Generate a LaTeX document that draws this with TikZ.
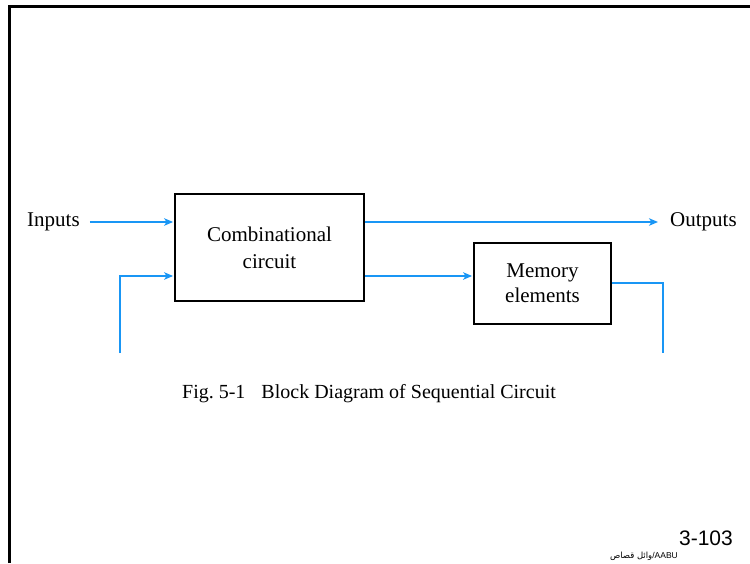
\documentclass[tikz,border=0pt]{standalone}
\usepackage{fontspec}
\setmainfont{Liberation Serif}
\newfontfamily\arialfont{Liberation Sans}
\newfontfamily\arabicfont[Script=Arabic]{DejaVu Sans}
\TeXXeTstate=1
\usetikzlibrary{arrows.meta}
\definecolor{flowblue}{RGB}{25,150,245}

\begin{document}
\begin{tikzpicture}[x=1pt,y=-1pt,
  block/.style={draw=black, line width=1.8pt, align=center, inner sep=0pt,
    font=\fontsize{21}{22}\selectfont},
  lbl/.style={inner sep=0pt, font=\fontsize{21}{22}\selectfont},
  flow/.style={draw=flowblue, line width=2pt},
  flowarr/.style={flow, -{Stealth[length=9pt,width=7.5pt,inset=2.5pt]}}]
  \useasboundingbox (0,0) rectangle (750,563);

  % slide frame
  \draw[line width=3pt] (9,563) -- (9,6) -- (751,6);

  % blocks
  \node[block, minimum width=189pt, minimum height=107pt] (comb) at (269.5,247.5)
    {Combinational\\[5pt]circuit};
  \node[block, minimum width=137pt, minimum height=81pt] (mem) at (542.5,283.5)
    {Memory\\[3pt]elements};

  % terminal labels
  \node[lbl, anchor=west] (in) at (27,222) {Inputs};
  \node[lbl, anchor=west] (out) at (670,222) {Outputs};

  % feedback ends
  \coordinate (fbl) at (120,353);
  \coordinate (fbr) at (663,353);

  % connectors
  \draw[flowarr, shorten <=10pt, shorten >=1pt] (in.east) -- (in.east -| comb.west);
  \draw[flowarr, shorten >=1pt] (fbl) |- (comb.west |- 0,276);
  \draw[flowarr, shorten >=12pt] (comb.east |- out.west) -- (out.west);
  \draw[flowarr, shorten >=1pt] (comb.east |- 0,276) -- (mem.west |- 0,276);
  \draw[flow] (mem.east |- 0,283) -| (fbr);

  % caption
  \node[inner sep=0pt, font=\fontsize{20}{21}\selectfont] (cap) at (369,394)
    {Fig.\ 5-1\hspace{0.8em}Block Diagram of Sequential Circuit};

  % slide number and footer
  \node[inner sep=0pt, anchor=east, font=\arialfont\fontsize{21}{22}\selectfont]
    (num) at (733,538) {3-103};
  \node[inner sep=0pt, anchor=east, font=\fontsize{8.5}{9}\selectfont]
    (foot) at (678,556) {{\arabicfont\beginR وائل قصاص\endR}{\arialfont /AABU}};
\end{tikzpicture}
\end{document}
